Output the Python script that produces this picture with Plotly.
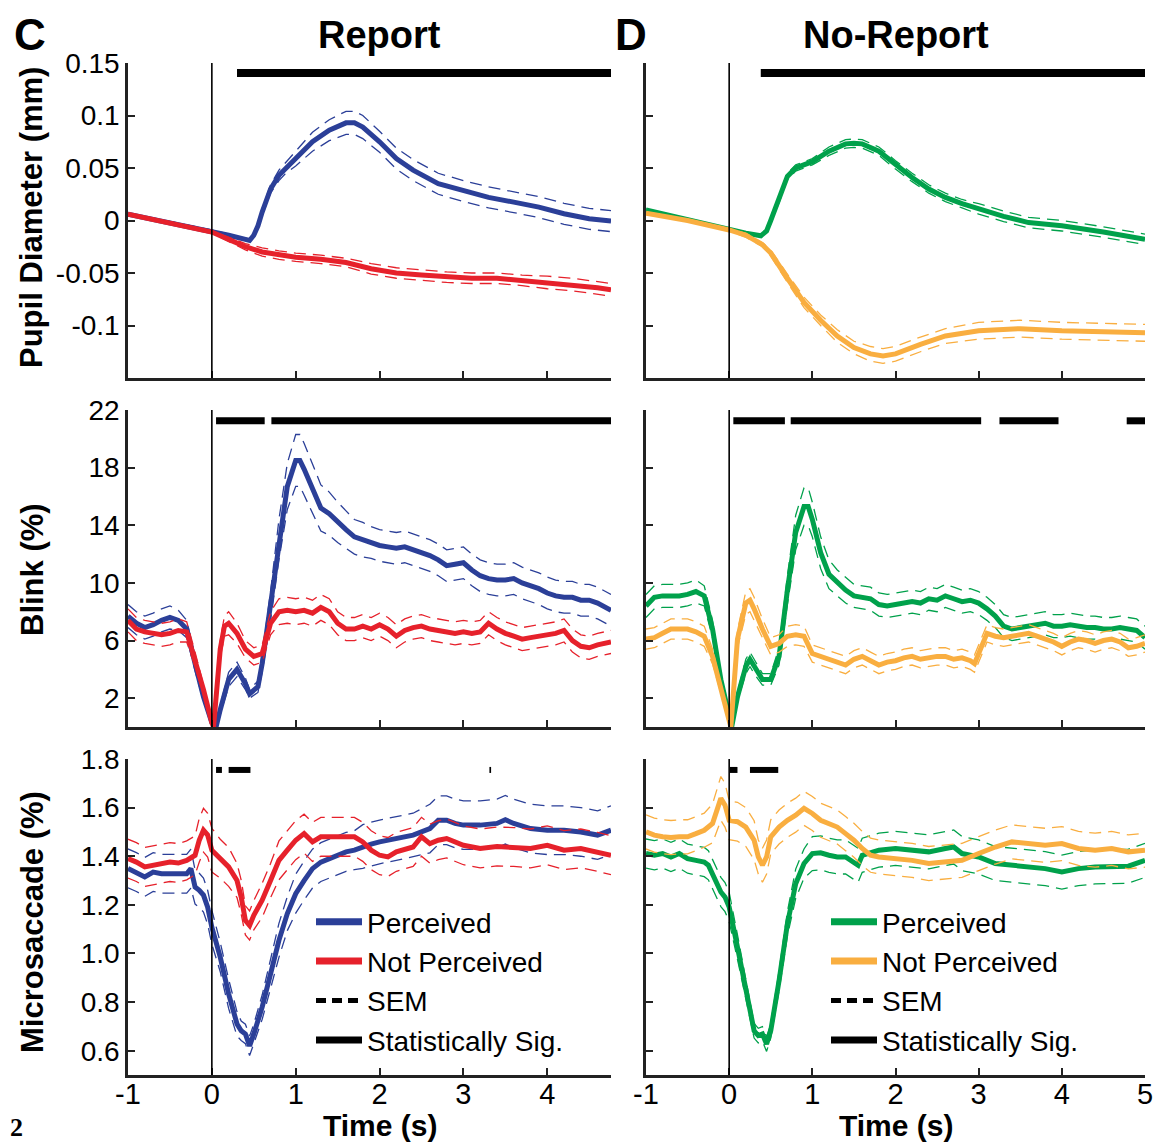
import plotly.graph_objects as go
from plotly.subplots import make_subplots

W, H = 1159, 1143

# ---------------- colours ----------------
BLUE, RED = "#2B3F98", "#E6212B"
GREEN, ORANGE = "#00A14B", "#F9AE40"

# ---------------- Pupil diameter (mm) ----------------
pupil_rep_perc_t = [-1, -0.5, -0.2, 0, 0.2, 0.4, 0.45, 0.5, 0.55, 0.6, 0.7, 0.8, 0.87, 1.0, 1.2, 1.4, 1.6, 1.7,
                    1.8, 2.0, 2.2, 2.4, 2.7, 3.0, 3.3, 3.6, 3.9, 4.2, 4.5, 4.76]
pupil_rep_perc_v = [0.006, -0.002, -0.007, -0.010, -0.014, -0.018, -0.019, -0.014, -0.005, 0.008, 0.030, 0.043,
                    0.049, 0.059, 0.075, 0.086, 0.093, 0.093, 0.089, 0.075, 0.059, 0.048, 0.035, 0.028, 0.022,
                    0.0175, 0.0127, 0.0064, 0.0016, -0.0006]
pupil_rep_perc_sem = [0.001, 0.001, 0.001, 0.001, 0.001, 0.001, 0.001, 0.002, 0.002, 0.003, 0.004, 0.005,
                      0.005, 0.007, 0.009, 0.010, 0.011, 0.011, 0.011, 0.010, 0.010, 0.010, 0.010, 0.010, 0.010,
                      0.010, 0.010, 0.010, 0.010, 0.010]

pupil_rep_notp_t = [-1, -0.5, 0, 0.2, 0.4, 0.6, 0.8, 1.0, 1.3, 1.6, 1.9, 2.2, 2.5, 2.8, 3.1, 3.4, 3.7, 4.0,
                    4.3, 4.6, 4.76]
pupil_rep_notp_v = [0.006, -0.002, -0.011, -0.018, -0.025, -0.030, -0.033, -0.035, -0.037, -0.040, -0.046,
                    -0.050, -0.052, -0.054, -0.055, -0.055, -0.057, -0.059, -0.061, -0.064, -0.066]
pupil_rep_notp_sem = [0.001, 0.001, 0.001, 0.002, 0.003, 0.004, 0.004, 0.004, 0.004, 0.004, 0.005, 0.005,
                      0.005, 0.005, 0.005, 0.005, 0.005, 0.006, 0.006, 0.006, 0.006]

pupil_norep_perc_t = [-1, -0.5, 0, 0.2, 0.38, 0.45, 0.5, 0.6, 0.7, 0.8, 1.0, 1.2, 1.4, 1.5, 1.6, 1.8, 2.0,
                      2.2, 2.4, 2.6, 2.8, 3.0, 3.3, 3.6, 4.0, 4.5, 5.0]
pupil_norep_perc_v = [0.010, 0.001, -0.009, -0.012, -0.0146, -0.010, 0.000, 0.020, 0.042, 0.050, 0.056,
                      0.066, 0.073, 0.0736, 0.073, 0.066, 0.053, 0.041, 0.030, 0.022, 0.016, 0.011, 0.004,
                      -0.002, -0.005, -0.011, -0.018]
pupil_norep_perc_sem = [0.001, 0.001, 0.001, 0.001, 0.001, 0.001, 0.002, 0.003, 0.003, 0.003, 0.003, 0.004,
                        0.004, 0.004, 0.004, 0.004, 0.004, 0.004, 0.004, 0.004, 0.004, 0.005, 0.005, 0.005,
                        0.005, 0.005, 0.005]

pupil_norep_notp_t = [-1, -0.5, 0, 0.2, 0.4, 0.5, 0.7, 0.9, 1.1, 1.3, 1.5, 1.7, 1.85, 2.0, 2.3, 2.6, 3.0,
                      3.5, 4.0, 4.5, 5.0]
pupil_norep_notp_v = [0.007, 0.000, -0.009, -0.014, -0.023, -0.031, -0.055, -0.078, -0.095, -0.110, -0.121,
                      -0.127, -0.129, -0.127, -0.118, -0.110, -0.105, -0.103, -0.105, -0.106, -0.107]
pupil_norep_notp_sem = [0.001, 0.001, 0.001, 0.002, 0.002, 0.003, 0.004, 0.005, 0.005, 0.006, 0.006, 0.007,
                        0.007, 0.007, 0.007, 0.007, 0.008, 0.008, 0.008, 0.008, 0.008]

# ---------------- Blink (%) ----------------
blink_rep_perc_t = [-1.0, -0.9, -0.8, -0.7, -0.6, -0.5, -0.4, -0.3, -0.2, -0.1, 0.0, 0.05, 0.1, 0.2, 0.3,
                    0.4, 0.45, 0.55, 0.6, 0.7, 0.8, 0.9, 1.0, 1.05, 1.1, 1.2, 1.3, 1.4, 1.5, 1.6, 1.7, 1.8,
                    1.9, 2.0, 2.1, 2.2, 2.3, 2.4, 2.5, 2.6, 2.7, 2.8, 2.9, 3.0, 3.1, 3.2, 3.3, 3.4, 3.5, 3.6,
                    3.7, 3.8, 3.9, 4.0, 4.1, 4.2, 4.3, 4.4, 4.5, 4.6, 4.7, 4.76]
blink_rep_perc_v = [7.7, 7.2, 6.9, 7.1, 7.4, 7.6, 7.4, 6.8, 4.4, 2.1, 0.3, 0.0, 1.2, 3.3, 4.0,
                    3.0, 2.3, 2.8, 4.4, 8.4, 13.0, 16.7, 18.5, 18.5, 17.9, 16.5, 15.2, 14.8, 14.2, 13.7,
                    13.2, 13.0, 12.8, 12.6, 12.5, 12.4, 12.5, 12.3, 12.1, 11.9, 11.6, 11.2, 11.3, 11.4,
                    10.9, 10.5, 10.3, 10.2, 10.2, 10.3, 10.0, 9.8, 9.6, 9.3, 9.1, 9.0, 9.0, 8.8, 8.8, 8.6,
                    8.3, 8.1]
blink_rep_perc_sem = [0.8, 0.8, 0.8, 0.8, 0.8, 0.8, 0.7, 0.6, 0.5, 0.3, 0.2, 0.1, 0.3, 0.5, 0.5,
                      0.4, 0.3, 0.4, 0.6, 1.0, 1.4, 1.6, 1.8, 1.8, 1.8, 1.7, 1.6, 1.5, 1.4, 1.3, 1.2, 1.2,
                      1.1, 1.1, 1.1, 1.1, 1.1, 1.1, 1.1, 1.1, 1.1, 1.1, 1.1, 1.1, 1.1, 1.1, 1.1, 1.1, 1.1,
                      1.1, 1.1, 1.1, 1.1, 1.1, 1.1, 1.1, 1.1, 1.1, 1.1, 1.1, 1.1, 1.1]

blink_rep_notp_t = [-1.0, -0.9, -0.8, -0.7, -0.6, -0.5, -0.4, -0.3, -0.2, -0.1, 0.0, 0.02, 0.1, 0.15, 0.2,
                    0.3, 0.4, 0.5, 0.6, 0.7, 0.8, 0.9, 1.0, 1.1, 1.2, 1.3, 1.4, 1.5, 1.6, 1.7, 1.8, 1.9, 2.0,
                    2.1, 2.2, 2.3, 2.4, 2.5, 2.6, 2.7, 2.8, 2.9, 3.0, 3.1, 3.2, 3.3, 3.4, 3.5, 3.6, 3.7, 3.8,
                    3.9, 4.0, 4.1, 4.2, 4.3, 4.4, 4.5, 4.6, 4.7, 4.76]
blink_rep_notp_v = [7.4, 6.8, 6.6, 6.5, 6.4, 6.5, 6.7, 6.6, 4.7, 2.6, 0.3, 0.0, 5.4, 7.0, 7.2,
                    6.5, 5.4, 4.9, 5.1, 7.2, 8.0, 8.1, 8.0, 8.1, 7.9, 8.3, 8.0, 7.2, 6.8, 6.8, 7.0, 6.8, 7.1,
                    6.8, 6.3, 6.7, 6.9, 7.0, 6.8, 6.7, 6.6, 6.5, 6.6, 6.5, 6.6, 7.2, 6.8, 6.5, 6.3, 6.1, 6.2,
                    6.3, 6.4, 6.5, 6.7, 6.0, 5.6, 5.5, 5.7, 5.8, 5.9]
blink_rep_notp_sem = [0.8, 0.8, 0.8, 0.8, 0.8, 0.8, 0.8, 0.7, 0.5, 0.3, 0.2, 0.1, 0.6, 0.7, 0.8,
                      0.7, 0.6, 0.6, 0.6, 0.8, 0.9, 0.9, 0.9, 0.9, 0.9, 0.9, 0.9, 0.8, 0.8, 0.8, 0.8, 0.8,
                      0.8, 0.8, 0.8, 0.8, 0.8, 0.8, 0.8, 0.8, 0.8, 0.8, 0.8, 0.8, 0.8, 0.8, 0.8, 0.8, 0.8,
                      0.8, 0.8, 0.8, 0.8, 0.8, 0.8, 0.8, 0.8, 0.8, 0.8, 0.8, 0.8]

blink_norep_perc_t = [-1.0, -0.9, -0.8, -0.7, -0.6, -0.5, -0.4, -0.3, -0.2, -0.1, 0.0, 0.03, 0.1, 0.2, 0.25,
                      0.3, 0.4, 0.5, 0.6, 0.7, 0.8, 0.9, 0.95, 1.0, 1.1, 1.2, 1.3, 1.4, 1.5, 1.6, 1.7, 1.8,
                      1.9, 2.0, 2.1, 2.2, 2.3, 2.4, 2.5, 2.6, 2.7, 2.8, 2.9, 3.0, 3.1, 3.2, 3.3, 3.4, 3.5,
                      3.6, 3.7, 3.8, 3.9, 4.0, 4.1, 4.2, 4.3, 4.4, 4.5, 4.6, 4.7, 4.8, 4.9, 5.0]
blink_norep_perc_v = [8.4, 9.0, 9.1, 9.1, 9.1, 9.2, 9.4, 9.1, 6.8, 3.3, 0.5, 0.0, 2.1, 4.2, 4.7,
                      4.2, 3.3, 3.3, 4.9, 9.5, 13.5, 15.3, 15.3, 14.4, 12.1, 10.6, 10.0, 9.5, 9.1, 9.0, 8.9,
                      8.5, 8.4, 8.5, 8.6, 8.7, 8.6, 8.9, 8.8, 9.1, 8.9, 8.7, 8.8, 8.6, 8.2, 7.7, 7.0, 6.8,
                      6.9, 7.0, 7.1, 7.2, 7.0, 7.0, 7.1, 7.0, 6.9, 6.9, 6.8, 6.8, 6.9, 6.8, 6.7, 6.2]
blink_norep_perc_sem = [0.8, 0.8, 0.8, 0.8, 0.8, 0.8, 0.8, 0.7, 0.6, 0.4, 0.2, 0.1, 0.3, 0.5, 0.5,
                        0.5, 0.4, 0.4, 0.6, 1.0, 1.2, 1.3, 1.3, 1.2, 1.1, 1.0, 0.9, 0.9, 0.8, 0.8, 0.8, 0.8,
                        0.8, 0.8, 0.8, 0.8, 0.8, 0.8, 0.8, 0.8, 0.8, 0.8, 0.8, 0.8, 0.8, 0.8, 0.8, 0.8, 0.8,
                        0.8, 0.8, 0.8, 0.8, 0.8, 0.8, 0.8, 0.8, 0.8, 0.8, 0.8, 0.8, 0.8, 0.8, 0.8]

blink_norep_notp_t = [-1.0, -0.9, -0.8, -0.7, -0.6, -0.5, -0.4, -0.3, -0.2, -0.1, 0.0, 0.02, 0.1, 0.2, 0.25,
                      0.3, 0.4, 0.5, 0.6, 0.7, 0.8, 0.9, 1.0, 1.1, 1.2, 1.3, 1.4, 1.5, 1.6, 1.7, 1.8, 1.9,
                      2.0, 2.1, 2.2, 2.3, 2.4, 2.5, 2.6, 2.7, 2.8, 2.9, 2.95, 3.0, 3.1, 3.2, 3.3, 3.4, 3.5,
                      3.6, 3.7, 3.8, 3.9, 4.0, 4.1, 4.2, 4.3, 4.4, 4.5, 4.6, 4.7, 4.8, 4.9, 5.0]
blink_norep_notp_v = [6.1, 6.2, 6.5, 6.8, 6.8, 6.8, 6.6, 6.3, 4.9, 2.6, 0.5, 0.0, 6.1, 8.6, 8.8,
                      8.2, 6.8, 5.6, 5.8, 6.3, 6.4, 6.3, 5.1, 4.9, 4.7, 4.5, 4.3, 4.7, 4.9, 4.6, 4.3, 4.5,
                      4.6, 4.8, 4.9, 4.7, 4.8, 4.9, 4.9, 4.7, 4.8, 4.6, 4.4, 5.1, 6.5, 6.3, 6.2, 6.3, 6.4,
                      6.5, 6.3, 6.1, 5.9, 5.6, 5.9, 6.1, 6.0, 5.8, 6.0, 6.1, 5.9, 5.5, 5.6, 5.8]
blink_norep_notp_sem = [0.7, 0.7, 0.7, 0.7, 0.7, 0.7, 0.7, 0.7, 0.5, 0.3, 0.2, 0.1, 0.6, 0.8, 0.8,
                        0.8, 0.7, 0.6, 0.6, 0.7, 0.7, 0.7, 0.6, 0.6, 0.6, 0.6, 0.6, 0.6, 0.6, 0.6, 0.6, 0.6,
                        0.6, 0.6, 0.6, 0.6, 0.6, 0.6, 0.6, 0.6, 0.6, 0.6, 0.6, 0.6, 0.6, 0.6, 0.6, 0.6, 0.6,
                        0.6, 0.6, 0.6, 0.6, 0.6, 0.6, 0.6, 0.6, 0.6, 0.6, 0.6, 0.6, 0.6, 0.6, 0.6]

# ---------------- Microsaccade (%) ----------------
micro_rep_perc_t = [-1.0, -0.9, -0.8, -0.7, -0.6, -0.5, -0.4, -0.3, -0.25, -0.2, -0.15, -0.1, -0.05, 0.0,
                    0.1, 0.2, 0.3, 0.35, 0.4, 0.45, 0.5, 0.6, 0.7, 0.8, 0.9, 1.0, 1.1, 1.2, 1.3, 1.4, 1.5,
                    1.6, 1.7, 1.8, 1.9, 2.0, 2.2, 2.4, 2.6, 2.7, 2.8, 2.9, 3.0, 3.2, 3.4, 3.5, 3.6, 3.8,
                    4.0, 4.2, 4.4, 4.6, 4.76]
micro_rep_perc_v = [1.350, 1.335, 1.315, 1.335, 1.328, 1.328, 1.326, 1.328, 1.349, 1.273, 1.260, 1.240,
                    1.190, 1.108, 0.985, 0.834, 0.710, 0.682, 0.669, 0.620, 0.669, 0.779, 0.916, 1.054,
                    1.164, 1.246, 1.300, 1.349, 1.376, 1.390, 1.404, 1.418, 1.425, 1.440, 1.450, 1.459,
                    1.473, 1.487, 1.514, 1.548, 1.548, 1.535, 1.528, 1.528, 1.535, 1.550, 1.535, 1.514,
                    1.507, 1.507, 1.500, 1.487, 1.507]
micro_rep_perc_sem = [0.08, 0.08, 0.08, 0.08, 0.08, 0.08, 0.08, 0.08, 0.08, 0.07, 0.07, 0.07, 0.07, 0.07,
                      0.06, 0.06, 0.05, 0.04, 0.04, 0.04, 0.04, 0.05, 0.06, 0.07, 0.07, 0.08, 0.08, 0.08,
                      0.08, 0.08, 0.08, 0.08, 0.08, 0.09, 0.09, 0.09, 0.09, 0.09, 0.10, 0.10, 0.10, 0.10,
                      0.10, 0.10, 0.10, 0.10, 0.10, 0.10, 0.10, 0.10, 0.10, 0.10, 0.10]

micro_rep_notp_t = [-1.0, -0.9, -0.8, -0.7, -0.6, -0.5, -0.4, -0.3, -0.2, -0.15, -0.1, -0.05, 0.0, 0.1, 0.2,
                    0.3, 0.35, 0.4, 0.45, 0.5, 0.6, 0.7, 0.8, 0.9, 1.0, 1.1, 1.2, 1.3, 1.4, 1.5, 1.6, 1.7,
                    1.8, 1.9, 2.0, 2.1, 2.2, 2.4, 2.5, 2.6, 2.7, 2.8, 3.0, 3.2, 3.4, 3.6, 3.8, 4.0, 4.2,
                    4.4, 4.6, 4.76]
micro_rep_notp_v = [1.390, 1.376, 1.356, 1.363, 1.370, 1.376, 1.372, 1.383, 1.404, 1.466, 1.507, 1.487,
                    1.425, 1.390, 1.356, 1.300, 1.232, 1.136, 1.115, 1.157, 1.219, 1.300, 1.383, 1.425,
                    1.466, 1.493, 1.459, 1.480, 1.480, 1.480, 1.483, 1.480, 1.459, 1.425, 1.404, 1.397,
                    1.418, 1.438, 1.480, 1.452, 1.466, 1.473, 1.445, 1.432, 1.440, 1.438, 1.432, 1.445,
                    1.425, 1.432, 1.418, 1.404]
micro_rep_notp_sem = [0.08, 0.08, 0.08, 0.08, 0.08, 0.08, 0.08, 0.08, 0.08, 0.09, 0.09, 0.09, 0.09, 0.08,
                      0.08, 0.07, 0.07, 0.06, 0.06, 0.06, 0.07, 0.07, 0.08, 0.08, 0.08, 0.08, 0.08, 0.08,
                      0.08, 0.08, 0.08, 0.08, 0.08, 0.08, 0.08, 0.08, 0.08, 0.08, 0.08, 0.08, 0.08, 0.08,
                      0.08, 0.08, 0.08, 0.08, 0.08, 0.08, 0.08, 0.08, 0.08, 0.08]

micro_norep_perc_t = [-1.0, -0.9, -0.8, -0.7, -0.6, -0.5, -0.4, -0.3, -0.25, -0.2, -0.1, -0.05, 0.0, 0.1,
                      0.2, 0.3, 0.35, 0.4, 0.45, 0.5, 0.6, 0.7, 0.8, 0.9, 1.0, 1.1, 1.2, 1.3, 1.4, 1.5,
                      1.55, 1.6, 1.8, 2.0, 2.2, 2.4, 2.6, 2.7, 2.8, 3.0, 3.2, 3.4, 3.6, 3.8, 4.0, 4.2, 4.4,
                      4.6, 4.8, 5.0]
micro_norep_perc_v = [1.411, 1.404, 1.411, 1.397, 1.411, 1.390, 1.383, 1.376, 1.363, 1.328, 1.253, 1.232,
                      1.191, 1.026, 0.847, 0.682, 0.662, 0.669, 0.627, 0.682, 0.888, 1.122, 1.287, 1.370,
                      1.411, 1.414, 1.404, 1.397, 1.397, 1.376, 1.363, 1.404, 1.425, 1.432, 1.425, 1.418,
                      1.432, 1.438, 1.411, 1.397, 1.370, 1.363, 1.356, 1.349, 1.335, 1.349, 1.356, 1.356,
                      1.359, 1.383]
micro_norep_perc_sem = [0.06, 0.06, 0.06, 0.06, 0.06, 0.06, 0.06, 0.06, 0.06, 0.06, 0.06, 0.06, 0.06, 0.05,
                        0.04, 0.03, 0.03, 0.03, 0.03, 0.03, 0.04, 0.05, 0.06, 0.06, 0.07, 0.07, 0.07, 0.07,
                        0.07, 0.07, 0.07, 0.07, 0.07, 0.07, 0.07, 0.07, 0.07, 0.07, 0.07, 0.07, 0.07, 0.07,
                        0.07, 0.07, 0.07, 0.07, 0.07, 0.07, 0.07, 0.07]

micro_norep_notp_t = [-1.0, -0.9, -0.8, -0.7, -0.6, -0.5, -0.4, -0.3, -0.2, -0.1, -0.05, 0.0, 0.1, 0.2, 0.3,
                      0.35, 0.4, 0.45, 0.5, 0.6, 0.7, 0.8, 0.9, 1.0, 1.1, 1.2, 1.3, 1.4, 1.5, 1.6, 1.7,
                      1.8, 2.0, 2.2, 2.4, 2.6, 2.8, 3.0, 3.2, 3.4, 3.6, 3.8, 4.0, 4.2, 4.4, 4.6, 4.8, 5.0]
micro_norep_notp_v = [1.500, 1.487, 1.480, 1.477, 1.480, 1.480, 1.493, 1.507, 1.535, 1.638, 1.610, 1.548,
                      1.542, 1.520, 1.466, 1.397, 1.363, 1.397, 1.480, 1.520, 1.548, 1.569, 1.597, 1.576,
                      1.548, 1.535, 1.520, 1.493, 1.466, 1.432, 1.404, 1.397, 1.390, 1.383, 1.370, 1.376,
                      1.383, 1.411, 1.438, 1.459, 1.452, 1.445, 1.452, 1.432, 1.425, 1.432, 1.418, 1.425]
micro_norep_notp_sem = [0.07, 0.07, 0.07, 0.07, 0.07, 0.07, 0.07, 0.07, 0.08, 0.09, 0.09, 0.08, 0.08, 0.08,
                        0.08, 0.07, 0.07, 0.07, 0.07, 0.07, 0.07, 0.07, 0.07, 0.07, 0.07, 0.07, 0.07, 0.07,
                        0.07, 0.07, 0.07, 0.07, 0.07, 0.07, 0.07, 0.07, 0.07, 0.07, 0.07, 0.07, 0.07, 0.07,
                        0.07, 0.07, 0.07, 0.07, 0.07, 0.07]

# ---------------- statistically significant intervals (s) ----------------
sig_pupil_rep = [[0.30, 4.76]]
sig_pupil_norep = [[0.38, 5.0]]
sig_blink_rep = [[0.05, 0.63], [0.71, 4.76]]
sig_blink_norep = [[0.05, 0.67], [0.74, 3.03], [3.25, 3.96], [4.78, 5.0]]
sig_micro_rep = [[0.05, 0.12], [0.20, 0.46], [3.31, 3.33]]
sig_micro_norep = [[0.01, 0.10], [0.25, 0.59]]
sig_level = {"pupil": 0.1405, "blink": 21.25, "micro": 1.755}

# ---------------- axes ----------------
x_ticks_left = [-1, 0, 1, 2, 3, 4]
x_ticks_right = [-1, 0, 1, 2, 3, 4, 5]
x_ticklabels_left = ["-1", "0", "1", "2", "3", "4"]
x_ticklabels_right = ["-1", "0", "1", "2", "3", "4", "5"]
x_range_left = [-1, 4.76]
x_range_right = [-1, 5]
pupil_ticks = [-0.1, -0.05, 0, 0.05, 0.1, 0.15]
pupil_ticklabels = ["-0.1", "-0.05", "0", "0.05", "0.1", "0.15"]
blink_ticks = [2, 6, 10, 14, 18, 22]
micro_ticks = [0.6, 0.8, 1.0, 1.2, 1.4, 1.6, 1.8]
micro_ticklabels = ["0.6", "0.8", "1.0", "1.2", "1.4", "1.6", "1.8"]

FONT = "Liberation Sans, Arial, sans-serif"

fig = make_subplots(rows=3, cols=2)


def px_x(p):
    return p / W


def px_y(p):
    return 1 - p / H


col_dom = {1: [px_x(128), px_x(611)], 2: [px_x(646), px_x(1145)]}
row_dom = {1: [px_y(378), px_y(63)], 2: [px_y(727), px_y(410)], 3: [px_y(1075), px_y(759)]}

panels = [
    (1, 1, "pupil", (pupil_rep_perc_t, pupil_rep_perc_v, pupil_rep_perc_sem, BLUE),
     (pupil_rep_notp_t, pupil_rep_notp_v, pupil_rep_notp_sem, RED), sig_pupil_rep, 8),
    (1, 2, "pupil", (pupil_norep_perc_t, pupil_norep_perc_v, pupil_norep_perc_sem, GREEN),
     (pupil_norep_notp_t, pupil_norep_notp_v, pupil_norep_notp_sem, ORANGE), sig_pupil_norep, 8),
    (2, 1, "blink", (blink_rep_perc_t, blink_rep_perc_v, blink_rep_perc_sem, BLUE),
     (blink_rep_notp_t, blink_rep_notp_v, blink_rep_notp_sem, RED), sig_blink_rep, 7),
    (2, 2, "blink", (blink_norep_perc_t, blink_norep_perc_v, blink_norep_perc_sem, GREEN),
     (blink_norep_notp_t, blink_norep_notp_v, blink_norep_notp_sem, ORANGE), sig_blink_norep, 7),
    (3, 1, "micro", (micro_rep_perc_t, micro_rep_perc_v, micro_rep_perc_sem, BLUE),
     (micro_rep_notp_t, micro_rep_notp_v, micro_rep_notp_sem, RED), sig_micro_rep, 6),
    (3, 2, "micro", (micro_norep_perc_t, micro_norep_perc_v, micro_norep_perc_sem, GREEN),
     (micro_norep_notp_t, micro_norep_notp_v, micro_norep_notp_sem, ORANGE), sig_micro_norep, 6),
]

for row, col, kind, s1, s2, sig, sigw in panels:
    for t, v, sem, colr in (s1, s2):
        up = [a + b for a, b in zip(v, sem)]
        lo = [a - b for a, b in zip(v, sem)]
        for band in (up, lo):
            fig.add_trace(go.Scatter(x=t, y=band, mode="lines", showlegend=False, hoverinfo="skip",
                                     line=dict(color=colr, width=1.3, dash="12px,7px")), row=row, col=col)
        fig.add_trace(go.Scatter(x=t, y=v, mode="lines", showlegend=False,
                                 line=dict(color=colr, width=5)), row=row, col=col)
    sx, sy = [], []
    for a, b in sig:
        sx += [a, b, None]
        sy += [sig_level[kind], sig_level[kind], None]
    fig.add_trace(go.Scatter(x=sx, y=sy, mode="lines", showlegend=False, hoverinfo="skip",
                             line=dict(color="black", width=sigw)), row=row, col=col)
    # stimulus onset line
    fig.add_vline(x=0, line=dict(color="black", width=1.6), row=row, col=col)

# legends
for leg, (c1, c2) in (("legend", (BLUE, RED)), ("legend2", (GREEN, ORANGE))):
    for name, colr, dash in (("Perceived", c1, "solid"), ("Not Perceived", c2, "solid"),
                             ("SEM", "black", "10px,6px"), ("Statistically Sig.", "black", "solid")):
        fig.add_trace(go.Scatter(x=[None], y=[None], mode="lines", name=name, legend=leg,
                                 line=dict(color=colr, width=7 if dash == "solid" else 5, dash=dash)),
                      row=3, col=1 if leg == "legend" else 2)

axis_common = dict(showline=True, linecolor="#222", linewidth=2.5, ticks="inside", ticklen=7,
                   tickwidth=2, tickcolor="#222", showgrid=False, zeroline=False, mirror=False,
                   automargin=False)

for row in (1, 2, 3):
    for col in (1, 2):
        xa = dict(axis_common, domain=col_dom[col],
                  range=x_range_left if col == 1 else x_range_right,
                  tickvals=x_ticks_left if col == 1 else x_ticks_right,
                  ticktext=x_ticklabels_left if col == 1 else x_ticklabels_right,
                  showticklabels=(row == 3), ticklabelstandoff=-9,
                  tickfont=dict(family=FONT, size=29, color="black"))
        kind = ["pupil", "blink", "micro"][row - 1]
        if kind == "pupil":
            ya = dict(range=[-0.15, 0.15], tickvals=pupil_ticks, ticktext=pupil_ticklabels)
        elif kind == "blink":
            ya = dict(range=[0, 22], tickvals=blink_ticks)
        else:
            ya = dict(range=[0.5, 1.8], tickvals=micro_ticks, ticktext=micro_ticklabels)
        ya = dict(axis_common, domain=row_dom[row], showticklabels=(col == 1),
                  tickfont=dict(family=FONT, size=28, color="black"), **ya)
        fig.update_xaxes(xa, row=row, col=col)
        fig.update_yaxes(ya, row=row, col=col)

leg_common = dict(font=dict(family=FONT, size=28, color="black"), bgcolor="rgba(0,0,0,0)",
                  xanchor="left", yanchor="top", itemwidth=46, tracegroupgap=0, itemclick=False)
fig.update_layout(
    width=W, height=H, margin=dict(l=0, r=0, t=0, b=0, pad=0, autoexpand=False),
    paper_bgcolor="white", plot_bgcolor="white",
    legend=dict(leg_common, x=px_x(311), y=px_y(897)),
    legend2=dict(leg_common, x=px_x(826), y=px_y(897)),
)

ann = []
bold = dict(family=FONT, size=31, color="black")
for text, yc in (("Pupil Diameter (mm)", 218), ("Blink (%)", 570), ("Microsaccade (%)", 922)):
    ann.append(dict(text="<b>%s</b>" % text, x=px_x(32), y=px_y(yc), xref="paper", yref="paper",
                    textangle=-90, showarrow=False, font=bold, xanchor="center", yanchor="middle"))
time_font = dict(family=FONT, size=30, color="black")
ann.append(dict(text="<b>Time (s)</b>", x=2, xref="x5", y=px_y(1125), yref="paper", showarrow=False,
                font=time_font, xanchor="center", yanchor="middle"))
ann.append(dict(text="<b>Time (s)</b>", x=2, xref="x6", y=px_y(1125), yref="paper", showarrow=False,
                font=time_font, xanchor="center", yanchor="middle"))
ann.append(dict(text="<b>Report</b>", x=2, xref="x", y=px_y(35), yref="paper", showarrow=False,
                font=dict(family=FONT, size=38, color="black"), xanchor="center", yanchor="middle"))
ann.append(dict(text="<b>No-Report</b>", x=2, xref="x2", y=px_y(35), yref="paper", showarrow=False,
                font=dict(family=FONT, size=38, color="black"), xanchor="center", yanchor="middle"))
ann.append(dict(text="<b>C</b>", x=px_x(30), y=px_y(34), xref="paper", yref="paper", showarrow=False,
                font=dict(family=FONT, size=44, color="black"), xanchor="center", yanchor="middle"))
ann.append(dict(text="<b>D</b>", x=px_x(631), y=px_y(34), xref="paper", yref="paper", showarrow=False,
                font=dict(family=FONT, size=44, color="black"), xanchor="center", yanchor="middle"))
ann.append(dict(text="<b>2</b>", x=px_x(16), y=px_y(1127), xref="paper", yref="paper", showarrow=False,
                font=dict(family="Liberation Serif, serif", size=26, color="black"),
                xanchor="center", yanchor="middle"))
fig.update_layout(annotations=ann)

fig.write_html("out.html", config={"displayModeBar": False},
               post_script="document.body.style.margin='0px';")
